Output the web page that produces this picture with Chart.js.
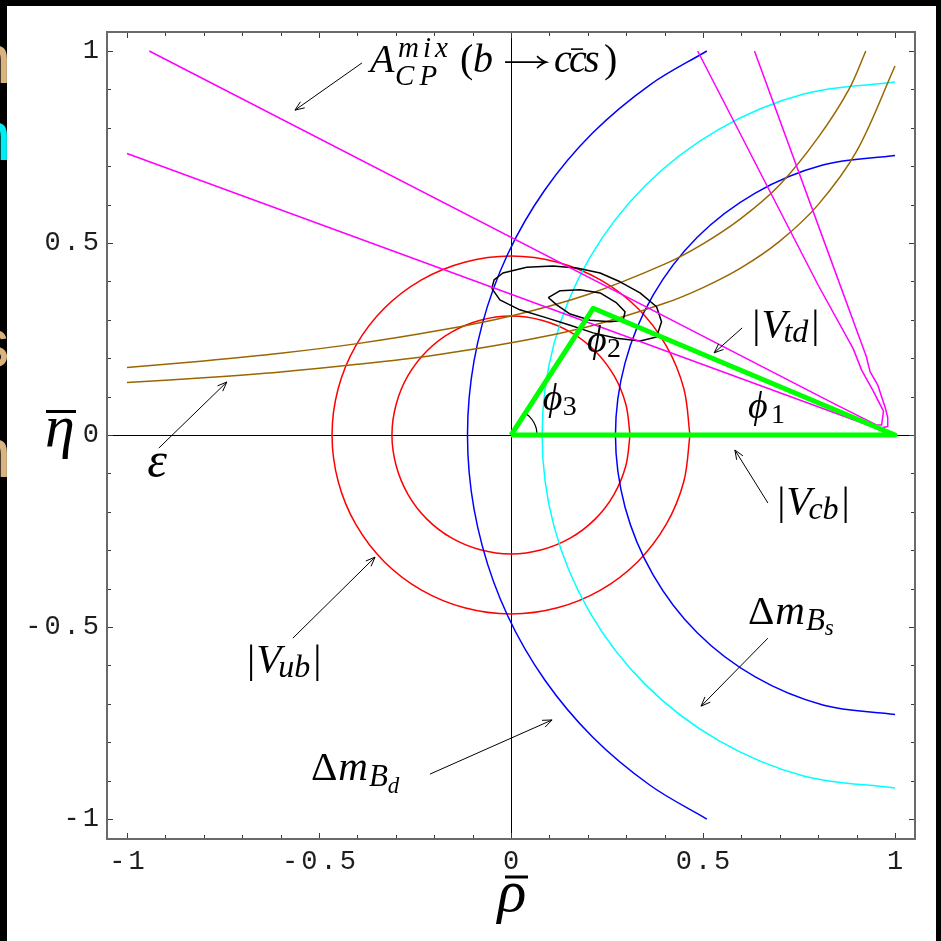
<!DOCTYPE html>
<html>
<head>
<meta charset="utf-8">
<script src="https://cdn.jsdelivr.net/npm/chart.js@4/dist/chart.umd.min.js"></script>
<style>
  html, body { margin: 0; padding: 0; background: #000; overflow: hidden; }
  canvas { display: block; }
</style>
</head>
<body>
<canvas id="c" width="941" height="941"></canvas>
<script>
// ---------- constraints in the (rho-bar, eta-bar) plane, as [rho, eta] points ----------

// unitarity triangle
const triangle = [[0, 0], [0.214, 0.330], [1, 0], [0, 0]];

// small angle mark at the origin vertex (phi3)
const phi3Mark = [[0.068, 0], [0.0657, 0.0176], [0.0589, 0.034], [0.0481, 0.0481], [0.0370, 0.0570]];

// |V_ub| band: two circles about (0, 0)
const vubInner = [[0.310,0],[0.299,0.080],[0.268,0.155],[0.219,0.219],[0.155,0.268],[0.080,0.299],[0,0.310],
  [-0.080,0.299],[-0.155,0.268],[-0.219,0.219],[-0.268,0.155],[-0.299,0.080],[-0.310,0],
  [-0.299,-0.080],[-0.268,-0.155],[-0.219,-0.219],[-0.155,-0.268],[-0.080,-0.299],[0,-0.310],
  [0.080,-0.299],[0.155,-0.268],[0.219,-0.219],[0.268,-0.155],[0.299,-0.080],[0.310,0]];
const vubOuter = [[0.466,0],[0.450,0.121],[0.404,0.233],[0.330,0.330],[0.233,0.404],[0.121,0.450],[0,0.466],
  [-0.121,0.450],[-0.233,0.404],[-0.330,0.330],[-0.404,0.233],[-0.450,0.121],[-0.466,0],
  [-0.450,-0.121],[-0.404,-0.233],[-0.330,-0.330],[-0.233,-0.404],[-0.121,-0.450],[0,-0.466],
  [0.121,-0.450],[0.233,-0.404],[0.330,-0.330],[0.404,-0.233],[0.450,-0.121],[0.466,0]];

// Delta m_Bd band: two arcs about (1, 0)
const dmdOuter = [[0.510,1.0],[0.362,0.912],[0.213,0.787],[0.088,0.638],[-0.009,0.470],[-0.075,0.288],[-0.109,0.097],
  [-0.109,-0.097],[-0.075,-0.288],[-0.009,-0.470],[0.088,-0.638],[0.213,-0.787],[0.362,-0.912],[0.510,-1.0]];
const dmdInner = [[1,0.728],[0.812,0.703],[0.636,0.630],[0.485,0.515],[0.370,0.364],[0.297,0.188],[0.272,0],
  [0.297,-0.188],[0.370,-0.364],[0.485,-0.515],[0.636,-0.630],[0.812,-0.703],[1,-0.728]];

// Delta m_Bs bound: arc about (1, 0)
const dmsBound = [[1,0.919],[0.762,0.888],[0.541,0.796],[0.350,0.650],[0.204,0.460],[0.112,0.238],[0.081,0],
  [0.112,-0.238],[0.204,-0.460],[0.350,-0.650],[0.541,-0.796],[0.762,-0.888],[1,-0.919]];

// epsilon_K band: two hyperbola branches
const epsUpper = [[-1.0,0.176],[-0.8,0.193],[-0.6,0.213],[-0.4,0.238],[-0.2,0.270],[0.0,0.310],[0.2,0.366],
  [0.4,0.445],[0.5,0.498],[0.6,0.565],[0.7,0.652],[0.8,0.775],[0.88,0.900],[0.924,1.0]];
const epsLower = [[-1.0,0.137],[-0.8,0.149],[-0.6,0.164],[-0.4,0.184],[-0.2,0.208],[0.0,0.240],[0.2,0.282],
  [0.4,0.343],[0.5,0.384],[0.6,0.436],[0.7,0.505],[0.8,0.600],[0.9,0.739],[1.0,0.961]];

// A_CP^mix(b -> c cbar s) contours (both solutions for phi1 meet at (1, 0))
const acpHigh = [[0.486,1.0],[0.80,0.390],[0.891,0.225],[0.913,0.169],[0.943,0.115],[0.970,0.062],
  [0.965,0.026],[0.950,0.027],[0.850,0.077],[-0.942,1.0]];
const acpLow = [[0.634,1.0],[0.852,0.404],[0.925,0.205],[0.935,0.165],[0.955,0.130],[0.975,0.070],
  [0.981,0.045],[0.981,0.022],[0.965,0.019],[0.940,0.022],[-1.0,0.733]];

// global fit: confidence contours
const fitOuter = [[-0.050,0.382],[-0.044,0.404],[-0.021,0.422],[0.041,0.437],[0.109,0.440],[0.171,0.435],
  [0.232,0.422],[0.284,0.399],[0.336,0.370],[0.379,0.334],[0.392,0.295],[0.379,0.255],[0.336,0.245],
  [0.275,0.252],[0.214,0.266],[0.154,0.286],[0.093,0.305],[0.023,0.326],[-0.029,0.352],[-0.050,0.382]];
const fitInner = [[0.097,0.358],[0.128,0.376],[0.180,0.378],[0.232,0.370],[0.275,0.344],[0.297,0.321],
  [0.292,0.299],[0.258,0.295],[0.206,0.299],[0.154,0.315],[0.119,0.339],[0.097,0.358]];

// axis ticks
const tickStep = 0.1;
const labelledTicks = [-1, -0.5, 0, 0.5, 1];

// ---------- styling ----------
const SERIF = '"Liberation Serif", "DejaVu Serif", serif';
const MONO = '"Liberation Mono", "DejaVu Sans Mono", monospace';

const curve = (pts, color, width, tension) => ({
  data: pts.map(([x, y]) => ({ x, y })),
  showLine: true, fill: false, pointRadius: 0, pointHoverRadius: 0,
  borderColor: color, borderWidth: width, tension,
  borderJoinStyle: 'round', borderCapStyle: 'butt'
});

// first dataset is drawn on top
const datasets = [
  curve(triangle, '#00ff00', 5, 0),
  curve(phi3Mark, '#000000', 1.2, 0.35),
  curve(acpHigh, '#ff00ff', 1.5, 0),
  curve(acpLow, '#ff00ff', 1.5, 0),
  curve(fitOuter, '#000000', 1.5, 0),
  curve(fitInner, '#000000', 1.5, 0),
  curve(epsUpper, '#996600', 1.5, 0.35),
  curve(epsLower, '#996600', 1.5, 0.35),
  curve(dmsBound, '#00ffff', 1.5, 0.35),
  curve(dmdOuter, '#0000ff', 1.5, 0.35),
  curve(dmdInner, '#0000ff', 1.5, 0.35),
  curve(vubOuter, '#ff0000', 1.5, 0.35),
  curve(vubInner, '#ff0000', 1.5, 0.35)
];

// annotation pointers, [rho, eta] from -> to (arrow head at "to")
const pointers = [
  { from: [-0.388, 0.969], to: [-0.5625, 0.846] },
  { from: [-0.917, -0.034], to: [-0.740, 0.138] },
  { from: [-0.568, -0.529], to: [-0.354, -0.318] },
  { from: [-0.211, -0.883], to: [0.107, -0.742] },
  { from: [0.669, -0.529], to: [0.495, -0.706] },
  { from: [0.669, -0.177], to: [0.583, -0.039] },
  { from: [0.602, 0.279], to: [0.529, 0.214] }
];

// math labels: anchor in [rho, eta]; parts are [text, dx, dy, size, italic, letterSpacing]
// a numeric dx is measured from the anchor, a string dx ('+2', '-3') from the end of the previous part
const notes = [
  { at: [-0.367, 0.945], parts: [['A', 0, 0, 40, true], ['mix', 28, -15, 29, true, 4], ['CP', 25, 13, 29, true, 5],
      ['(', 90, 0, 40, false], ['b', 103, 0, 40, true], ['c', 184, 0, 40, true], ['c', 199, 0, 40, true],
      ['s', 214, 0, 40, true], [')', 234, 0, 40, false]],
    bars: [[201, 213, -23]], longArrow: [135, 176, -10] },
  { at: [-0.947, -0.109], parts: [['\u03b5', 0, 0, 50, true]] },
  { at: [-0.6875, -0.617], parts: [['|', 0, 0, 41, false], ['V', '+1', 0, 41, true], ['ub', '-3', 5, 32, true], ['|', '+3', 0, 41, false]] },
  { at: [-0.521, -0.898], parts: [['\u0394', 0, 0, 41, false], ['m', '+1', 0, 41, true], ['B', '+1', 6, 31, true], ['d', '+0', 13, 23, true]] },
  { at: [0.617, -0.492], parts: [['\u0394', 0, 0, 41, false], ['m', '+1', 0, 41, true], ['B', '+1', 6, 31, true], ['s', '+0', 11, 23, true]] },
  { at: [0.693, -0.206], parts: [['|', 0, 0, 41, false], ['V', '+1', 0, 41, true], ['cb', '-3', 5, 32, true], ['|', '+3', 0, 41, false]] },
  { at: [0.628, 0.255], parts: [['|', 0, 0, 41, false], ['V', '+1', 0, 41, true], ['td', '-3', 5, 32, true], ['|', '+3', 0, 41, false]] },
  { at: [0.617, 0.044], parts: [['\u03d5', 0, 0, 38, true], ['1', 23, 5, 28, false]] },
  { at: [0.198, 0.216], parts: [['\u03d5', 0, 0, 38, true], ['2', 20, 5, 28, false]] },
  { at: [0.083, 0.065], parts: [['\u03d5', 0, 0, 38, true], ['3', 20, 5, 28, false]] }
];

function arrowHead(ctx, x1, y1, x2, y2) {
  const a = Math.atan2(y2 - y1, x2 - x1), L = 10, w = 0.38;
  ctx.beginPath();
  ctx.moveTo(x2 - L * Math.cos(a - w), y2 - L * Math.sin(a - w));
  ctx.lineTo(x2, y2);
  ctx.lineTo(x2 - L * Math.cos(a + w), y2 - L * Math.sin(a + w));
  ctx.stroke();
}

function drawLabels(chart) {
  const ctx = chart.ctx, sx = chart.scales.x, sy = chart.scales.y;
  const px = (r) => sx.getPixelForValue(r), py = (e) => sy.getPixelForValue(e);
  ctx.save();
  ctx.letterSpacing = '0px';
  ctx.fillStyle = '#000';
  ctx.strokeStyle = '#000';
  ctx.lineWidth = 1;
  ctx.textAlign = 'left';
  ctx.textBaseline = 'alphabetic';

  pointers.forEach(p => {
    const x1 = px(p.from[0]), y1 = py(p.from[1]), x2 = px(p.to[0]), y2 = py(p.to[1]);
    ctx.beginPath(); ctx.moveTo(x1, y1); ctx.lineTo(x2, y2); ctx.stroke();
    arrowHead(ctx, x1, y1, x2, y2);
  });

  notes.forEach(n => {
    const x0 = px(n.at[0]), y0 = py(n.at[1]);
    let end = x0;
    n.parts.forEach(([t, dx, dy, size, it, sp]) => {
      ctx.font = `${it ? 'italic ' : ''}${size}px ${SERIF}`;
      ctx.letterSpacing = `${sp || 0}px`;
      const x = typeof dx === 'string' ? end + parseFloat(dx) : x0 + dx;
      ctx.fillText(t, x, y0 + dy);
      end = x + ctx.measureText(t).width;
    });
    ctx.letterSpacing = '0px';
    (n.bars || []).forEach(([a, b, dy]) => {
      ctx.lineWidth = 1.6;
      ctx.beginPath(); ctx.moveTo(x0 + a, y0 + dy); ctx.lineTo(x0 + b, y0 + dy); ctx.stroke();
      ctx.lineWidth = 1;
    });
    if (n.longArrow) {
      const [a, b, dy] = n.longArrow;
      ctx.lineWidth = 1.6;
      ctx.beginPath(); ctx.moveTo(x0 + a, y0 + dy); ctx.lineTo(x0 + b, y0 + dy); ctx.stroke();
      ctx.beginPath();
      ctx.moveTo(x0 + b - 9, y0 + dy - 6); ctx.quadraticCurveTo(x0 + b - 4, y0 + dy - 1, x0 + b, y0 + dy);
      ctx.quadraticCurveTo(x0 + b - 4, y0 + dy + 1, x0 + b - 9, y0 + dy + 6);
      ctx.stroke();
      ctx.lineWidth = 1;
    }
  });

  // axis titles: eta-bar and rho-bar
  ctx.font = `italic 60px ${SERIF}`;
  ctx.textAlign = 'center';
  ctx.fillText('\u03b7', 60, 446);
  ctx.fillText('\u03c1', 512, 911);
  ctx.lineWidth = 3;
  ctx.beginPath(); ctx.moveTo(46, 411.5); ctx.lineTo(76, 411.5); ctx.stroke();
  ctx.beginPath(); ctx.moveTo(505, 877); ctx.lineTo(528, 877); ctx.stroke();
  ctx.restore();
}

const framePlugin = {
  id: 'frame',
  beforeDraw(chart) {
    const ctx = chart.ctx;
    ctx.save();
    ctx.fillStyle = '#000';
    ctx.fillRect(0, 0, chart.width, chart.height);
    ctx.fillStyle = '#fff';
    ctx.fillRect(7, 6, 929, 935);
    // slide text peeking in at the left edge
    ctx.beginPath(); ctx.rect(0, 0, 7, chart.height); ctx.clip();
    const peek = [['n', 83, '#d9b481'], ['n', 160, '#00eef0'], ['s', 367, '#d9b481'], ['n', 477, '#d9b481']];
    ctx.font = `70px "Liberation Sans", sans-serif`;
    ctx.textBaseline = 'alphabetic';
    peek.forEach(([t, y, c]) => {
      const m = ctx.measureText(t);
      ctx.fillStyle = c;
      ctx.fillText(t, 7.5 - m.actualBoundingBoxRight, y);
    });
    ctx.restore();
    // spacing of the monospaced tick numbers
    ctx.letterSpacing = '3px';
  },
  beforeDatasetsDraw(chart) {
    const { ctx, chartArea: a, scales: { x, y } } = chart;
    ctx.save();
    ctx.letterSpacing = '0px';
    ctx.strokeStyle = '#000';
    ctx.lineWidth = 1;
    const x0 = Math.round(x.getPixelForValue(0)) + 0.5, y0 = Math.round(y.getPixelForValue(0)) + 0.5;
    ctx.beginPath(); ctx.moveTo(x0, a.top); ctx.lineTo(x0, a.bottom); ctx.stroke();
    ctx.beginPath(); ctx.moveTo(a.left, y0); ctx.lineTo(a.right, y0); ctx.stroke();
    ctx.restore();
  },
  afterDraw(chart) {
    const { ctx, chartArea: a, scales: { x, y } } = chart;
    ctx.save();
    ctx.letterSpacing = '0px';
    const isLab = (v) => labelledTicks.some(t => Math.abs(t - v) < 1e-6);
    ctx.strokeStyle = '#3a3a3a';
    ctx.lineWidth = 1;
    x.ticks.forEach(t => {
      const p = Math.round(x.getPixelForValue(t.value)) + 0.5, L = isLab(t.value) ? 6 : 4;
      ctx.beginPath(); ctx.moveTo(p, a.bottom); ctx.lineTo(p, a.bottom - L); ctx.stroke();
      ctx.beginPath(); ctx.moveTo(p, a.top); ctx.lineTo(p, a.top + L); ctx.stroke();
    });
    y.ticks.forEach(t => {
      const p = Math.round(y.getPixelForValue(t.value)) + 0.5, L = isLab(t.value) ? 6 : 4;
      ctx.beginPath(); ctx.moveTo(a.left, p); ctx.lineTo(a.left + L, p); ctx.stroke();
      ctx.beginPath(); ctx.moveTo(a.right, p); ctx.lineTo(a.right - L, p); ctx.stroke();
    });
    ctx.strokeStyle = '#6a6a6a';
    ctx.lineWidth = 2;
    ctx.strokeRect(a.left, a.top, a.right - a.left, a.bottom - a.top);
    ctx.restore();
    drawLabels(chart);
  }
};

const tickText = (v) => {
  const hit = labelledTicks.find(t => Math.abs(t - v) < 1e-6);
  return hit === undefined ? '' : String(hit);
};

const axisCommon = {
  type: 'linear',
  grid: { display: false, drawTicks: false },
  border: { display: false }
};

new Chart(document.getElementById('c'), {
  type: 'scatter',
  data: { datasets },
  options: {
    responsive: false,
    animation: false,
    devicePixelRatio: 1,
    events: [],
    layout: { padding: { top: 32, right: 26, left: 0, bottom: 0 } },
    plugins: { legend: { display: false }, tooltip: { enabled: false } },
    scales: {
      x: Object.assign({}, axisCommon, {
        min: -1.052, max: 1.052,
        ticks: { stepSize: tickStep, includeBounds: false, autoSkip: false, maxRotation: 0, minRotation: 0,
          padding: 7, labelOffset: 1.5, color: '#1e1e1e', font: { family: MONO, size: 27 }, callback: tickText },
        afterFit: (s) => { s.height = 102; }
      }),
      y: Object.assign({}, axisCommon, {
        min: -1.052, max: 1.0495,
        ticks: { stepSize: tickStep, includeBounds: false, autoSkip: false,
          padding: 5, color: '#1e1e1e', font: { family: MONO, size: 27 }, callback: tickText },
        afterFit: (s) => { s.width = 107; }
      })
    }
  },
  plugins: [framePlugin]
});
</script>
</body>
</html>
